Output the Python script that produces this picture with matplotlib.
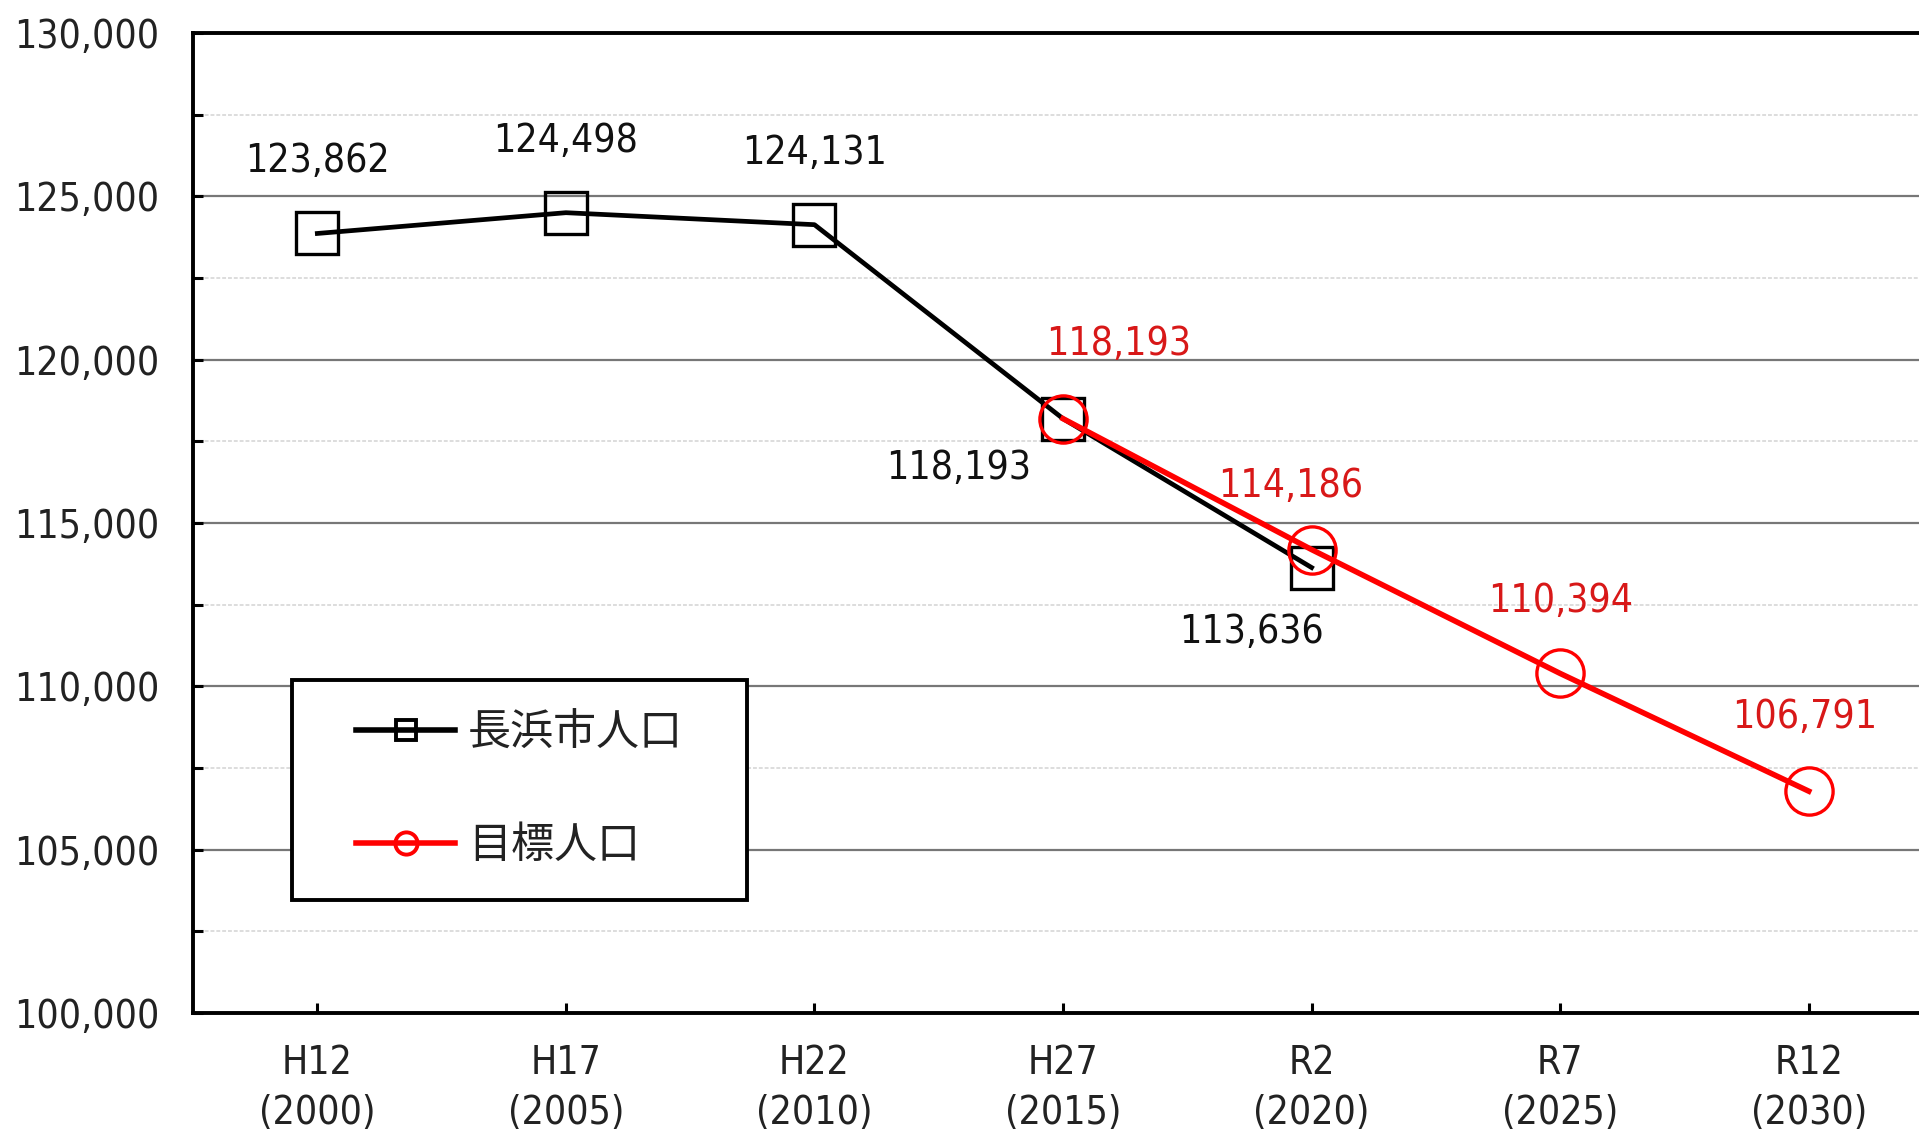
import matplotlib
matplotlib.use("Agg")
import matplotlib.pyplot as plt
from matplotlib import font_manager
from matplotlib.lines import Line2D
from matplotlib.patches import Rectangle
from matplotlib.transforms import IdentityTransform
from matplotlib.ticker import MultipleLocator, FuncFormatter

# data
categories = ["H12\n(2000)", "H17\n(2005)", "H22\n(2010)", "H27\n(2015)",
              "R2\n(2020)", "R7\n(2025)", "R12\n(2030)"]
city_pop = [123862, 124498, 124131, 118193, 113636]
target_idx = [3, 4, 5, 6]
target_pop = [118193, 114186, 110394, 106791]

# label offsets (pixels) relative to each point
city_offsets = [(0, 72), (0, 72), (0, 72), (-104, -49), (-60, -64)]
target_offsets = [(56, 75), (-21, 64), (0, 72), (-4, 74)]

# narrow digits like the original; fall back to condensed DejaVu
names = {f.name for f in font_manager.fontManager.ttflist}
condensed = any(f.name == "DejaVu Sans" and "condensed" in str(f.stretch)
                for f in font_manager.fontManager.ttflist)
if "Liberation Sans Narrow" in names:
    num_font, stretch = "Liberation Sans Narrow", "normal"
else:
    num_font, stretch = "DejaVu Sans", ("condensed" if condensed else "normal")
plt.rcParams["font.family"] = [num_font, "Noto Sans CJK JP"]
plt.rcParams["font.stretch"] = stretch

RED = "#ff0000"
LABEL_RED = "#d81818"
FS = 28

fig = plt.figure(figsize=(19.19, 11.44), dpi=100)
ax = fig.add_axes([0.1006, 0.1145, 0.9067, 0.8567])

x_city = list(range(len(city_pop)))
ax.plot(x_city, city_pop, color="black", lw=3.4, marker="s", ms=30,
        mfc="none", mec="black", mew=2.4, zorder=3)
ax.plot(target_idx, target_pop, color=RED, lw=4.0, marker="o", ms=34,
        mfc="none", mec=RED, mew=2.4, zorder=4)

for x, y, (dx, dy) in zip(x_city, city_pop, city_offsets):
    ax.annotate(f"{y:,}", (x, y), xytext=(dx, dy), textcoords="offset pixels",
                ha="center", va="center", fontsize=FS, color="#111111",
                fontstretch=stretch)
for x, y, (dx, dy) in zip(target_idx, target_pop, target_offsets):
    ax.annotate(f"{y:,}", (x, y), xytext=(dx, dy), textcoords="offset pixels",
                ha="center", va="center", fontsize=FS, color=LABEL_RED,
                fontstretch=stretch)

ax.set_xlim(-0.5, 6.5)
ax.set_ylim(100000, 130000)
ax.set_xticks(range(len(categories)))
ax.set_xticklabels(categories, fontsize=FS, linespacing=1.4, color="#222222",
                   fontstretch=stretch)
ax.yaxis.set_major_locator(MultipleLocator(5000))
ax.yaxis.set_minor_locator(MultipleLocator(2500))
ax.yaxis.set_major_formatter(FuncFormatter(lambda v, p: f"{int(v):,}"))
ax.tick_params(axis="y", which="both", direction="in", length=7, width=2.2,
               labelsize=FS, pad=24, labelcolor="#222222")
ax.tick_params(axis="x", direction="in", length=7, width=2.2, pad=22)
for t in ax.get_yticklabels():
    t.set_fontstretch(stretch)

ax.grid(axis="y", which="major", color="#777777", lw=1.6, zorder=1)
ax.grid(axis="y", which="minor", color="#dddddd", lw=1.4, ls=(0, (2, 1)), zorder=1)
ax.set_axisbelow(True)

for s in ["left", "bottom", "top"]:
    ax.spines[s].set_linewidth(2.8)
    ax.spines[s].set_color("black")
ax.spines["right"].set_visible(False)

handles = [
    Line2D([], [], color="black", lw=4, marker="s", ms=14, mfc="none", mew=2.8),
    Line2D([], [], color=RED, lw=4, marker="o", ms=16, mfc="none", mew=2.8),
]
leg = ax.legend(handles, ["長浜市人口", "目標人口"], loc="center",
                bbox_to_anchor=(0.1876, 0.2276),
                prop={"family": ["Noto Sans CJK JP"], "size": 31},
                handlelength=2.3, handletextpad=0.3, borderpad=0,
                labelspacing=1.6, frameon=False, borderaxespad=0)
leg.set_zorder(6)
for t in leg.get_texts():
    t.set_color("#222222")

# box around the legend, wider padding left/right than top/bottom
fig.canvas.draw()
bb = leg.get_window_extent()
pad_x, pad_y = 64, 32
frame = Rectangle((bb.x0 - pad_x, bb.y0 - pad_y), bb.width + 2 * pad_x,
                  bb.height + 2 * pad_y, transform=IdentityTransform(),
                  facecolor="white", edgecolor="black", lw=2.8, zorder=5)
ax.add_artist(frame)

fig.savefig("out.png", dpi=100)
